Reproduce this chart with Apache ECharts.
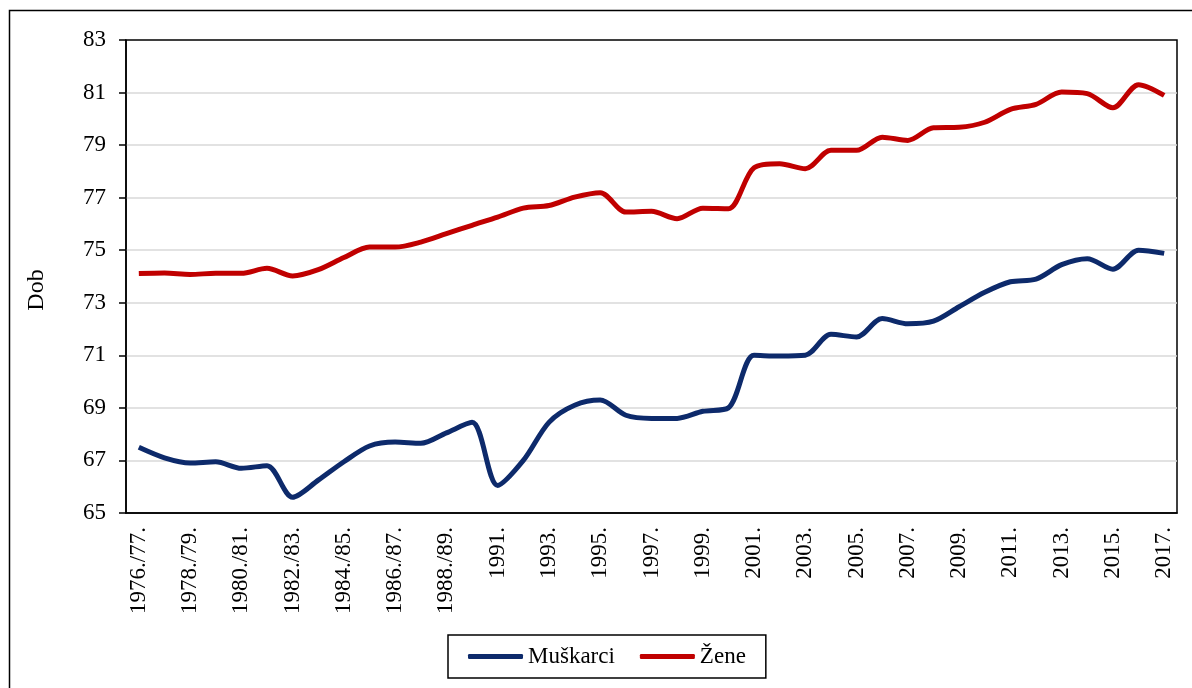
<!DOCTYPE html>
<html>
<head>
<meta charset="utf-8">
<script src="https://cdn.jsdelivr.net/npm/echarts@6/dist/echarts.min.js"></script>
<style>
  html, body { margin: 0; padding: 0; background: #fff; }
  #chart { width: 1192px; height: 688px; }
</style>
</head>
<body>
<div id="chart"></div>
<script>
  // kategorije (školske godine pa kalendarske)
  const categories = [
    '1976./77.', '1977./78.', '1978./79.', '1979./80.', '1980./81.', '1981./82.',
    '1982./83.', '1983./84.', '1984./85.', '1985./86.', '1986./87.', '1987./88.',
    '1988./89.', '1989./90.', '1991.', '1992.', '1993.', '1994.', '1995.', '1996.',
    '1997.', '1998.', '1999.', '2000.', '2001.', '2002.', '2003.', '2004.', '2005.',
    '2006.', '2007.', '2008.', '2009.', '2010.', '2011.', '2012.', '2013.', '2014.',
    '2015.', '2016.', '2017.'
  ]

  const muskarci = [
    67.5, 67.1, 66.9, 66.95, 66.7, 66.8, 65.6, 66.25, 66.95, 67.55, 67.7, 67.65,
    68.05, 68.45, 66.05, 67.0, 68.45, 69.1, 69.3, 68.72, 68.6, 68.6, 68.87, 69.0,
    71.0, 70.97, 71.0, 71.8, 71.7, 72.4, 72.2, 72.3, 72.85, 73.4, 73.8, 73.9,
    74.45, 74.68, 74.28, 75.0, 74.88
  ]

  const zene = [
    74.11, 74.13, 74.08, 74.12, 74.12, 74.31, 74.02, 74.26, 74.72, 75.12, 75.12, 75.31,
    75.63, 75.95, 76.26, 76.6, 76.7, 77.02, 77.19, 76.45, 76.48, 76.2, 76.6, 76.58,
    78.14, 78.29, 78.1, 78.8, 78.8, 79.3, 79.18, 79.66, 79.68, 79.87, 80.36, 80.55,
    81.02, 80.96, 80.42, 81.3, 80.89
  ]

  const yTicks = { min: 65, max: 83, interval: 2 }

  const font = "'Liberation Serif', 'Times New Roman', serif"
  const navy = '#0d2a6b'
  const red = '#c00000'

  const chart = echarts.init(document.getElementById('chart'))
  chart.setOption({
    animation: false,
    backgroundColor: '#fff',
    textStyle: { fontFamily: font, color: '#000' },
    grid: {
      left: 126, right: 15, top: 40, bottom: 175,
      show: true, borderColor: '#000', borderWidth: 1.5
    },
    graphic: [
      {
        type: 'rect',
        shape: { x: 9.5, y: 10.5, width: 1200, height: 700 },
        style: { fill: 'none', stroke: '#000', lineWidth: 1.5 },
        silent: true
      },
      {
        type: 'text',
        x: 37, y: 290,
        rotation: Math.PI / 2,
        style: {
          text: 'Dob', font: '24px ' + font, fill: '#000',
          align: 'center', verticalAlign: 'middle'
        }
      }
    ],
    legend: {
      left: 448, top: 635,
      padding: [10, 20],
      itemGap: 25,
      itemWidth: 55, itemHeight: 5,
      icon: 'roundRect',
      borderColor: '#000', borderWidth: 1.5,
      textStyle: { fontFamily: font, fontSize: 23, color: '#000' },
      data: ['Muškarci', 'Žene']
    },
    xAxis: {
      type: 'category',
      data: categories,
      boundaryGap: true,
      axisLine: { lineStyle: { color: '#000', width: 1.5 } },
      axisTick: { alignWithLabel: true, interval: 0, length: 6, lineStyle: { color: '#000', width: 1.5 } },
      axisLabel: {
        interval: 1, rotate: 90, margin: 14,
        fontFamily: font, fontSize: 23, color: '#000'
      },
      splitLine: { show: false }
    },
    yAxis: {
      type: 'value',
      min: yTicks.min, max: yTicks.max, interval: yTicks.interval,
      axisLine: { show: true, lineStyle: { color: '#000', width: 1.5 } },
      axisTick: { show: true, length: 7, lineStyle: { color: '#000', width: 1.5 } },
      axisLabel: { margin: 20, fontFamily: font, fontSize: 23, color: '#000' },
      splitLine: { showMaxLine: false, showMinLine: false, lineStyle: { color: '#d9d9d9', width: 1.5 } }
    },
    series: [
      {
        name: 'Muškarci',
        type: 'line',
        data: muskarci,
        smooth: 0.3,
        showSymbol: false,
        symbol: 'none',
        itemStyle: { color: navy },
        lineStyle: { color: navy, width: 5 }
      },
      {
        name: 'Žene',
        type: 'line',
        data: zene,
        smooth: 0.3,
        showSymbol: false,
        symbol: 'none',
        itemStyle: { color: red },
        lineStyle: { color: red, width: 5 }
      }
    ]
  })
</script>
</body>
</html>
